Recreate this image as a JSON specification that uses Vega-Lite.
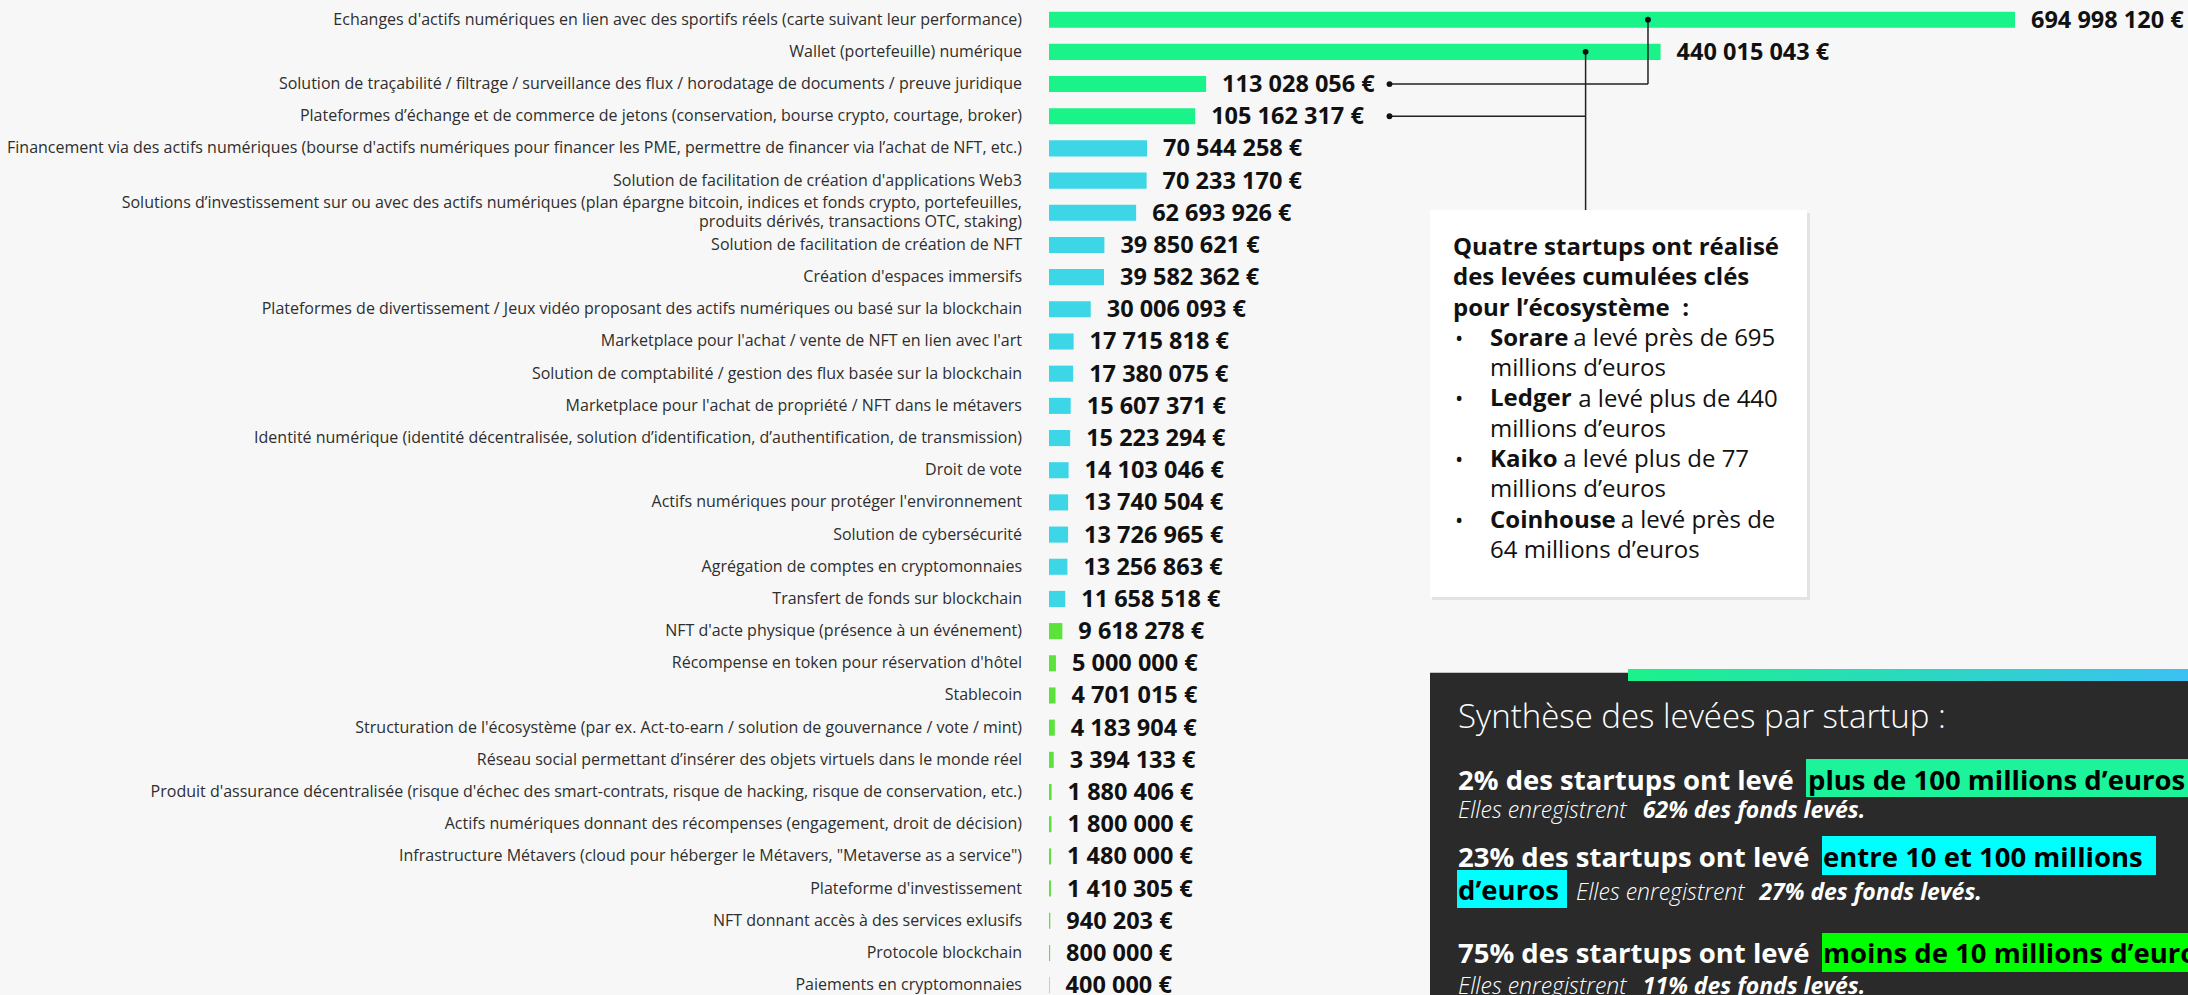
{
  "$schema": "https://vega.github.io/schema/vega-lite/v6.json",
  "width": 2188,
  "height": 995,
  "padding": 0,
  "autosize": "none",
  "background": "#f7f7f7",
  "config": {
    "view": {"stroke": null},
    "font": "Open Sans",
    "locale": {"number": {"decimal": ",", "thousands": " ", "grouping": [3], "currency": ["", " €"]}}
  },
  "datasets": {
    "levees": [
      {"id": "r01", "label": "Echanges d'actifs numériques en lien avec des sportifs réels (carte suivant leur performance)", "value": 694998120, "groupe": "plus de 100 millions"},
      {"id": "r02", "label": "Wallet (portefeuille) numérique", "value": 440015043, "groupe": "plus de 100 millions"},
      {"id": "r03", "label": "Solution de traçabilité / filtrage / surveillance des flux / horodatage de documents / preuve juridique", "value": 113028056, "groupe": "plus de 100 millions"},
      {"id": "r04", "label": "Plateformes d’échange et de commerce de jetons (conservation, bourse crypto, courtage, broker)", "value": 105162317, "groupe": "plus de 100 millions"},
      {"id": "r05", "label": "Financement via des actifs numériques (bourse d'actifs numériques pour financer les PME, permettre de financer via l’achat de NFT, etc.)", "value": 70544258, "groupe": "entre 10 et 100 millions"},
      {"id": "r06", "label": "Solution de facilitation de création d'applications Web3", "value": 70233170, "groupe": "entre 10 et 100 millions"},
      {"id": "r07", "label": "Solutions d’investissement sur ou avec des actifs numériques (plan épargne bitcoin, indices et fonds crypto, portefeuilles,\nproduits dérivés, transactions OTC, staking)", "value": 62693926, "groupe": "entre 10 et 100 millions"},
      {"id": "r08", "label": "Solution de facilitation de création de NFT", "value": 39850621, "groupe": "entre 10 et 100 millions"},
      {"id": "r09", "label": "Création d'espaces immersifs", "value": 39582362, "groupe": "entre 10 et 100 millions"},
      {"id": "r10", "label": "Plateformes de divertissement / Jeux vidéo proposant des actifs numériques ou basé sur la blockchain", "value": 30006093, "groupe": "entre 10 et 100 millions"},
      {"id": "r11", "label": "Marketplace pour l'achat / vente de NFT en lien avec l'art", "value": 17715818, "groupe": "entre 10 et 100 millions"},
      {"id": "r12", "label": "Solution de comptabilité / gestion des flux basée sur la blockchain", "value": 17380075, "groupe": "entre 10 et 100 millions"},
      {"id": "r13", "label": "Marketplace pour l'achat de propriété / NFT dans le métavers", "value": 15607371, "groupe": "entre 10 et 100 millions"},
      {"id": "r14", "label": "Identité numérique (identité décentralisée, solution d’identification, d’authentification, de transmission)", "value": 15223294, "groupe": "entre 10 et 100 millions"},
      {"id": "r15", "label": "Droit de vote", "value": 14103046, "groupe": "entre 10 et 100 millions"},
      {"id": "r16", "label": "Actifs numériques pour protéger l'environnement", "value": 13740504, "groupe": "entre 10 et 100 millions"},
      {"id": "r17", "label": "Solution de cybersécurité", "value": 13726965, "groupe": "entre 10 et 100 millions"},
      {"id": "r18", "label": "Agrégation de comptes en cryptomonnaies", "value": 13256863, "groupe": "entre 10 et 100 millions"},
      {"id": "r19", "label": "Transfert de fonds sur blockchain", "value": 11658518, "groupe": "entre 10 et 100 millions"},
      {"id": "r20", "label": "NFT d'acte physique (présence à un événement)", "value": 9618278, "groupe": "moins de 10 millions"},
      {"id": "r21", "label": "Récompense en token pour réservation d'hôtel", "value": 5000000, "groupe": "moins de 10 millions"},
      {"id": "r22", "label": "Stablecoin", "value": 4701015, "groupe": "moins de 10 millions"},
      {"id": "r23", "label": "Structuration de l'écosystème (par ex. Act-to-earn / solution de gouvernance / vote / mint)", "value": 4183904, "groupe": "moins de 10 millions"},
      {"id": "r24", "label": "Réseau social permettant d’insérer des objets virtuels dans le monde réel", "value": 3394133, "groupe": "moins de 10 millions"},
      {"id": "r25", "label": "Produit d'assurance décentralisée (risque d'échec des smart-contrats, risque de hacking, risque de conservation, etc.)", "value": 1880406, "groupe": "moins de 10 millions"},
      {"id": "r26", "label": "Actifs numériques donnant des récompenses (engagement, droit de décision)", "value": 1800000, "groupe": "moins de 10 millions"},
      {"id": "r27", "label": "Infrastructure Métavers (cloud pour héberger le Métavers, \"Metaverse as a service\")", "value": 1480000, "groupe": "moins de 10 millions"},
      {"id": "r28", "label": "Plateforme d'investissement", "value": 1410305, "groupe": "moins de 10 millions"},
      {"id": "r29", "label": "NFT donnant accès à des services exlusifs", "value": 940203, "groupe": "moins de 10 millions"},
      {"id": "r30", "label": "Protocole blockchain", "value": 800000, "groupe": "moins de 10 millions"},
      {"id": "r31", "label": "Paiements en cryptomonnaies", "value": 400000, "groupe": "moins de 10 millions"}
    ]
  },
  "resolve": {"scale": {"y": "independent"}},
  "layer": [
    {
      "data": {"name": "levees"},
      "layer": [
        {
          "mark": {"type": "bar"},
          "encoding": {
            "y": {"field": "id", "type": "nominal", "scale": {"range": [3.6, 1001.2], "paddingInner": 0.5, "paddingOuter": 0.25}, "axis": null},
            "x": {"field": "value", "type": "quantitative", "scale": {"domain": [0, 694998120], "range": [1049, 2015], "nice": false}, "axis": null},
            "color": {"field": "groupe", "type": "nominal", "scale": {"domain": ["plus de 100 millions", "entre 10 et 100 millions", "moins de 10 millions"], "range": ["#1af28a", "#3dd6e6", "#5be23b"]}, "legend": null}
          }
        },
        {
          "transform": [{"filter": "indexof(datum.label, '\\n') < 0"}],
          "mark": {"type": "text", "align": "right", "baseline": "middle", "dx": -27, "fontSize": 16, "color": "#2e2e2e"},
          "encoding": {
            "y": {"field": "id", "type": "nominal", "axis": null},
            "x": {"datum": 0, "type": "quantitative", "scale": {"domain": [0, 694998120], "range": [1049, 2015], "nice": false}, "axis": null},
            "text": {"field": "label", "type": "nominal"}
          }
        },
        {
          "transform": [{"filter": "indexof(datum.label, '\\n') >= 0"}],
          "mark": {"type": "text", "align": "right", "baseline": "middle", "dx": -27, "dy": -9.5, "fontSize": 16, "lineHeight": 19, "lineBreak": "\n", "color": "#2e2e2e"},
          "encoding": {
            "y": {"field": "id", "type": "nominal", "axis": null},
            "x": {"datum": 0, "type": "quantitative", "scale": {"domain": [0, 694998120], "range": [1049, 2015], "nice": false}, "axis": null},
            "text": {"field": "label", "type": "nominal"}
          }
        },
        {
          "mark": {"type": "text", "align": "left", "baseline": "middle", "dx": 16, "dy": 1, "fontSize": 23.5, "fontWeight": "bold", "color": "#111111"},
          "encoding": {
            "y": {"field": "id", "type": "nominal", "axis": null},
            "x": {"field": "value", "type": "quantitative", "scale": {"domain": [0, 694998120], "range": [1049, 2015], "nice": false}, "axis": null},
            "text": {"field": "value", "type": "quantitative", "format": "$,.0f"}
          }
        },
        {
          "data": {"values": [{}]},
          "mark": {"type": "rule", "color": "#222222", "strokeWidth": 1.5},
          "encoding": {
            "x": {"datum": 430950000, "type": "quantitative", "scale": {"domain": [0, 694998120], "range": [1049, 2015], "nice": false}, "axis": null},
            "y": {"datum": "r01", "type": "nominal", "axis": null},
            "y2": {"datum": "r03"}
          }
        },
        {
          "data": {"values": [{}]},
          "mark": {"type": "rule", "color": "#222222", "strokeWidth": 1.5},
          "encoding": {
            "x": {"datum": 244970000, "type": "quantitative", "scale": {"domain": [0, 694998120], "range": [1049, 2015], "nice": false}, "axis": null},
            "x2": {"datum": 430950000},
            "y": {"datum": "r03", "type": "nominal", "axis": null}
          }
        },
        {
          "data": {"values": [{}]},
          "mark": {"type": "rule", "color": "#222222", "strokeWidth": 1.5},
          "encoding": {
            "x": {"datum": 386060000, "type": "quantitative", "scale": {"domain": [0, 694998120], "range": [1049, 2015], "nice": false}, "axis": null},
            "y": {"datum": "r02", "type": "nominal", "axis": null},
            "y2": {"datum": "r07"}
          }
        },
        {
          "data": {"values": [{}]},
          "mark": {"type": "rule", "color": "#222222", "strokeWidth": 1.5},
          "encoding": {
            "x": {"datum": 244970000, "type": "quantitative", "scale": {"domain": [0, 694998120], "range": [1049, 2015], "nice": false}, "axis": null},
            "x2": {"datum": 386060000},
            "y": {"datum": "r04", "type": "nominal", "axis": null}
          }
        },
        {
          "data": {"values": [{}]},
          "mark": {"type": "point", "filled": true, "size": 34, "color": "#111111", "opacity": 1},
          "encoding": {
            "x": {"datum": 430950000, "type": "quantitative", "scale": {"domain": [0, 694998120], "range": [1049, 2015], "nice": false}, "axis": null},
            "y": {"datum": "r01", "type": "nominal", "axis": null}
          }
        },
        {
          "data": {"values": [{}]},
          "mark": {"type": "point", "filled": true, "size": 34, "color": "#111111", "opacity": 1},
          "encoding": {
            "x": {"datum": 386060000, "type": "quantitative", "scale": {"domain": [0, 694998120], "range": [1049, 2015], "nice": false}, "axis": null},
            "y": {"datum": "r02", "type": "nominal", "axis": null}
          }
        },
        {
          "data": {"values": [{}]},
          "mark": {"type": "point", "filled": true, "size": 34, "color": "#111111", "opacity": 1},
          "encoding": {
            "x": {"datum": 244970000, "type": "quantitative", "scale": {"domain": [0, 694998120], "range": [1049, 2015], "nice": false}, "axis": null},
            "y": {"datum": "r03", "type": "nominal", "axis": null}
          }
        },
        {
          "data": {"values": [{}]},
          "mark": {"type": "point", "filled": true, "size": 34, "color": "#111111", "opacity": 1},
          "encoding": {
            "x": {"datum": 244970000, "type": "quantitative", "scale": {"domain": [0, 694998120], "range": [1049, 2015], "nice": false}, "axis": null},
            "y": {"datum": "r04", "type": "nominal", "axis": null}
          }
        }
      ]
    },
    {
      "data": {"values": [{}]},
      "layer": [
        {"mark": {"type": "rect", "color": "#e3e3e3"},
         "encoding": {"x": {"datum": 275550000, "type": "quantitative", "scale": {"domain": [0, 694998120], "range": [1049, 2015], "nice": false}, "axis": null}, "x2": {"datum": 547510000},
                      "y": {"datum": 6.507, "type": "quantitative", "scale": {"domain": [0, 31], "range": [3.6, 1001.2], "nice": false, "zero": false}, "axis": null}, "y2": {"datum": 18.533}}},
        {"mark": {"type": "rect", "color": "#ffffff"},
         "encoding": {"x": {"datum": 274110000, "type": "quantitative", "axis": null}, "x2": {"datum": 545350000},
                      "y": {"datum": 6.414, "type": "quantitative", "axis": null}, "y2": {"datum": 18.44}}},
        {"mark": {"type": "text", "align": "left", "baseline": "alphabetic", "fontSize": 24, "fontWeight": "bold", "lineHeight": 30.3, "lineBreak": "\n", "color": "#111111", "text": "Quatre startups ont réalisé\ndes levées cumulées clés\npour l’écosystème\u00a0\u00a0:"},
         "encoding": {"x": {"datum": 290660000, "type": "quantitative", "axis": null}, "y": {"datum": 7.812, "type": "quantitative", "axis": null}}},
        {"mark": {"type": "text", "align": "left", "baseline": "alphabetic", "fontSize": 22, "lineHeight": 60.6, "lineBreak": "\n", "color": "#111111", "text": "•\n•\n•\n•"},
         "encoding": {"x": {"datum": 292100000, "type": "quantitative", "axis": null}, "y": {"datum": 10.637, "type": "quantitative", "axis": null}}},
        {"mark": {"type": "text", "align": "left", "baseline": "alphabetic", "fontSize": 24, "fontWeight": "bold", "lineHeight": 60.6, "lineBreak": "\n", "color": "#111111", "text": "Sorare\nLedger\nKaiko\nCoinhouse"},
         "encoding": {"x": {"datum": 317280000, "type": "quantitative", "axis": null}, "y": {"datum": 10.637, "type": "quantitative", "axis": null}}},
        {"mark": {"type": "text", "align": "left", "baseline": "alphabetic", "fontSize": 24, "lineHeight": 60.6, "lineBreak": "\n", "color": "#111111", "text": "millions d’euros\nmillions d’euros\nmillions d’euros\n64 millions d’euros"},
         "encoding": {"x": {"datum": 317280000, "type": "quantitative", "axis": null}, "y": {"datum": 11.579, "type": "quantitative", "axis": null}}},
        {"mark": {"type": "text", "align": "left", "baseline": "alphabetic", "fontSize": 24, "color": "#111111", "text": "a levé près de 695"},
         "encoding": {"x": {"datum": 377210000, "type": "quantitative", "axis": null}, "y": {"datum": 10.637, "type": "quantitative", "axis": null}}},
        {"mark": {"type": "text", "align": "left", "baseline": "alphabetic", "fontSize": 24, "color": "#111111", "text": "a levé plus de 440"},
         "encoding": {"x": {"datum": 380810000, "type": "quantitative", "axis": null}, "y": {"datum": 12.52, "type": "quantitative", "axis": null}}},
        {"mark": {"type": "text", "align": "left", "baseline": "alphabetic", "fontSize": 24, "color": "#111111", "text": "a levé plus de 77"},
         "encoding": {"x": {"datum": 370020000, "type": "quantitative", "axis": null}, "y": {"datum": 14.403, "type": "quantitative", "axis": null}}},
        {"mark": {"type": "text", "align": "left", "baseline": "alphabetic", "fontSize": 24, "color": "#111111", "text": "a levé près de"},
         "encoding": {"x": {"datum": 411310000, "type": "quantitative", "axis": null}, "y": {"datum": 16.287, "type": "quantitative", "axis": null}}},
        {"mark": {"type": "rect", "color": "#2a2a2a"},
         "encoding": {"x": {"datum": 274110000, "type": "quantitative", "axis": null}, "x2": {"datum": 828100000},
                      "y": {"datum": 20.793, "type": "quantitative", "axis": null}, "y2": {"datum": 30.964}}},
        {"mark": {"type": "rect", "color": {"gradient": "linear", "x1": 0, "x2": 1, "y1": 0, "y2": 0, "stops": [{"offset": 0, "color": "#1af28a"}, {"offset": 1, "color": "#3cbff5"}]}},
         "encoding": {"x": {"datum": 416570000, "type": "quantitative", "axis": null}, "x2": {"datum": 828100000},
                      "y": {"datum": 20.677, "type": "quantitative", "axis": null}, "y2": {"datum": 21.05}}},
        {"mark": {"type": "text", "align": "left", "baseline": "alphabetic", "fontSize": 33, "fontWeight": 300, "color": "#ffffff", "text": "Synthèse des levées par startup :"},
         "encoding": {"x": {"datum": 294260000, "type": "quantitative", "axis": null}, "y": {"datum": 22.511, "type": "quantitative", "axis": null}}},
        {"mark": {"type": "rect", "color": "#1cf39b"},
         "encoding": {"x": {"datum": 544630000, "type": "quantitative", "axis": null}, "x2": {"datum": 828100000},
                      "y": {"datum": 23.474, "type": "quantitative", "axis": null}, "y2": {"datum": 24.655}}},
        {"mark": {"type": "rect", "color": "#00ffff"},
         "encoding": {"x": {"datum": 556140000, "type": "quantitative", "axis": null}, "x2": {"datum": 796440000},
                      "y": {"datum": 25.867, "type": "quantitative", "axis": null}, "y2": {"datum": 27.079}}},
        {"mark": {"type": "rect", "color": "#00ffff"},
         "encoding": {"x": {"datum": 293540000, "type": "quantitative", "axis": null}, "x2": {"datum": 372680000},
                      "y": {"datum": 26.924, "type": "quantitative", "axis": null}, "y2": {"datum": 28.105}}},
        {"mark": {"type": "rect", "color": "#00ff00"},
         "encoding": {"x": {"datum": 556140000, "type": "quantitative", "axis": null}, "x2": {"datum": 828100000},
                      "y": {"datum": 28.881, "type": "quantitative", "axis": null}, "y2": {"datum": 30.093}}},
        {"mark": {"type": "text", "align": "left", "baseline": "alphabetic", "fontSize": 27.5, "fontWeight": "bold", "color": "#ffffff", "text": "2% des startups ont levé"},
         "encoding": {"x": {"datum": 294260000, "type": "quantitative", "axis": null}, "y": {"datum": 24.438, "type": "quantitative", "axis": null}}},
        {"mark": {"type": "text", "align": "left", "baseline": "alphabetic", "fontSize": 27.5, "fontWeight": "bold", "color": "#ffffff", "text": "23% des startups ont levé"},
         "encoding": {"x": {"datum": 294260000, "type": "quantitative", "axis": null}, "y": {"datum": 26.83, "type": "quantitative", "axis": null}}},
        {"mark": {"type": "text", "align": "left", "baseline": "alphabetic", "fontSize": 27.5, "fontWeight": "bold", "color": "#ffffff", "text": "75% des startups ont levé"},
         "encoding": {"x": {"datum": 294260000, "type": "quantitative", "axis": null}, "y": {"datum": 29.814, "type": "quantitative", "axis": null}}},
        {"mark": {"type": "text", "align": "left", "baseline": "alphabetic", "fontSize": 27.5, "fontWeight": "bold", "color": "#000000", "text": "plus de 100 millions d’euros"},
         "encoding": {"x": {"datum": 546070000, "type": "quantitative", "axis": null}, "y": {"datum": 24.438, "type": "quantitative", "axis": null}}},
        {"mark": {"type": "text", "align": "left", "baseline": "alphabetic", "fontSize": 27.5, "fontWeight": "bold", "color": "#000000", "text": "entre 10 et 100 millions"},
         "encoding": {"x": {"datum": 556860000, "type": "quantitative", "axis": null}, "y": {"datum": 26.83, "type": "quantitative", "axis": null}}},
        {"mark": {"type": "text", "align": "left", "baseline": "alphabetic", "fontSize": 27.5, "fontWeight": "bold", "color": "#000000", "text": "d’euros"},
         "encoding": {"x": {"datum": 294260000, "type": "quantitative", "axis": null}, "y": {"datum": 27.856, "type": "quantitative", "axis": null}}},
        {"mark": {"type": "text", "align": "left", "baseline": "alphabetic", "fontSize": 27.5, "fontWeight": "bold", "color": "#000000", "text": "moins de 10 millions d’euros"},
         "encoding": {"x": {"datum": 556860000, "type": "quantitative", "axis": null}, "y": {"datum": 29.814, "type": "quantitative", "axis": null}}},
        {"mark": {"type": "text", "align": "left", "baseline": "alphabetic", "fontSize": 23, "fontStyle": "italic", "fontWeight": 300, "color": "#ffffff", "text": "Elles enregistrent"},
         "encoding": {"x": {"datum": 294260000, "type": "quantitative", "axis": null}, "y": {"datum": 25.308, "type": "quantitative", "axis": null}}},
        {"mark": {"type": "text", "align": "left", "baseline": "alphabetic", "fontSize": 23, "fontStyle": "italic", "fontWeight": 300, "color": "#ffffff", "text": "Elles enregistrent"},
         "encoding": {"x": {"datum": 379160000, "type": "quantitative", "axis": null}, "y": {"datum": 27.856, "type": "quantitative", "axis": null}}},
        {"mark": {"type": "text", "align": "left", "baseline": "alphabetic", "fontSize": 23, "fontStyle": "italic", "fontWeight": 300, "color": "#ffffff", "text": "Elles enregistrent"},
         "encoding": {"x": {"datum": 294260000, "type": "quantitative", "axis": null}, "y": {"datum": 30.777, "type": "quantitative", "axis": null}}},
        {"mark": {"type": "text", "align": "left", "baseline": "alphabetic", "fontSize": 23, "fontStyle": "italic", "fontWeight": "bold", "color": "#ffffff", "text": "62% des fonds levés."},
         "encoding": {"x": {"datum": 427210000, "type": "quantitative", "axis": null}, "y": {"datum": 25.308, "type": "quantitative", "axis": null}}},
        {"mark": {"type": "text", "align": "left", "baseline": "alphabetic", "fontSize": 23, "fontStyle": "italic", "fontWeight": "bold", "color": "#ffffff", "text": "27% des fonds levés."},
         "encoding": {"x": {"datum": 511100000, "type": "quantitative", "axis": null}, "y": {"datum": 27.856, "type": "quantitative", "axis": null}}},
        {"mark": {"type": "text", "align": "left", "baseline": "alphabetic", "fontSize": 23, "fontStyle": "italic", "fontWeight": "bold", "color": "#ffffff", "text": "11% des fonds levés."},
         "encoding": {"x": {"datum": 427210000, "type": "quantitative", "axis": null}, "y": {"datum": 30.777, "type": "quantitative", "axis": null}}}
      ]
    }
  ]
}
